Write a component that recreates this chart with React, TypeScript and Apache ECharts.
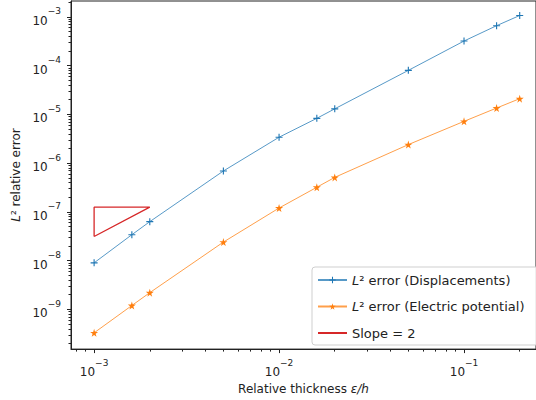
import React, { useEffect, useRef } from "react";
import * as echarts from "echarts";

const thickness = [1e-3, 1.6e-3, 2e-3, 5e-3, 1e-2, 1.6e-2, 2e-2, 5e-2, 1e-1, 1.5e-1, 2e-1];
const dispError = [9e-9, 3.4e-8, 6.3e-8, 6.9e-7, 3.4e-6, 8.3e-6, 1.3e-5, 8e-5, 3.2e-4, 6.6e-4, 1.07e-3];
const elecError = [3.3e-10, 1.2e-9, 2.2e-9, 2.4e-8, 1.2e-7, 3.2e-7, 5.1e-7, 2.4e-6, 7.2e-6, 1.35e-5, 2.1e-5];
const slopeX = [1e-3, 1e-3, 2e-3, 1e-3];
const slopeY = [3.125e-8, 1.25e-7, 1.25e-7, 3.125e-8];

const xMin = 7.5e-4;
const xMax = 0.245;
const yMin = 1.53e-10;
const yMax = 2.12e-3;
const xMajor = [1e-3, 1e-2, 1e-1];
const yMajor = [1e-9, 1e-8, 1e-7, 1e-6, 1e-5, 1e-4, 1e-3];

function minorTicks(lo: number, hi: number): number[] {
  const out: number[] = [];
  for (let e = Math.floor(Math.log10(lo)); e <= Math.ceil(Math.log10(hi)); e++) {
    for (let m = 2; m <= 9; m++) {
      const v = m * Math.pow(10, e);
      if (v >= lo && v <= hi) out.push(v);
    }
  }
  return out;
}

function powLabel(v: number): string {
  const e = Math.round(Math.log10(v));
  return "{b|10}{s|" + String(e).replace("-", "\u2212") + "}";
}

const FONT = "DejaVu Sans";
const TXT = "#222";
const AX = "#222";
const tickRich = {
  b: { fontSize: 12, lineHeight: 20, verticalAlign: "bottom", color: TXT, fontFamily: FONT },
  s: { fontSize: 9, lineHeight: 10, verticalAlign: "top", color: TXT, fontFamily: FONT },
};

export default function App() {
  const ref = useRef<HTMLDivElement>(null);
  useEffect(() => {
    if (!ref.current) return;
    const chart = echarts.init(ref.current, undefined, { renderer: "svg" });
    const plus = "path://M4.2,0H5.8V4.2H10V5.8H5.8V10H4.2V5.8H0V4.2H4.2Z";
    const star = "path://M50,0L61,35L98,35L68,57L79,91L50,70L21,91L32,57L2,35L39,35Z";
    const baseX = { type: "log", min: xMin, max: xMax, logBase: 10, splitLine: { show: false } };
    const baseY = { type: "log", min: yMin, max: yMax, logBase: 10, splitLine: { show: false } };
    chart.setOption({
      animation: false,
      textStyle: { fontFamily: FONT },
      grid: { left: 71, right: 0, top: 1, bottom: 50, show: true, borderColor: AX, borderWidth: 1, containLabel: false },
      xAxis: [
        {
          ...baseX,
          position: "bottom",
          name: "Relative thickness {i|ε/h}",
          nameLocation: "middle",
          nameGap: 30,
          nameTextStyle: { fontSize: 12, color: TXT, fontFamily: FONT, rich: { i: { fontStyle: "italic", fontSize: 12, color: TXT, fontFamily: FONT } } },
          axisLine: { show: true, onZero: false, lineStyle: { color: AX, width: 1 } },
          axisTick: { show: true, inside: false, length: 4, customValues: xMajor, lineStyle: { color: AX } },
          axisLabel: { show: true, customValues: xMajor, formatter: (v: number) => powLabel(v), color: TXT, margin: 9, fontFamily: FONT, rich: tickRich },
        },
        {
          ...baseX,
          position: "bottom",
          axisLine: { show: false, onZero: false },
          axisTick: { show: true, inside: false, length: 2.5, customValues: minorTicks(xMin, xMax), lineStyle: { color: AX } },
          axisLabel: { show: false },
        },
      ],
      yAxis: [
        {
          ...baseY,
          position: "left",
          name: "{i|L}² relative error",
          nameLocation: "middle",
          nameGap: 48,
          nameRotate: 90,
          nameTextStyle: { fontSize: 12, color: TXT, fontFamily: FONT, rich: { i: { fontStyle: "italic", fontSize: 12, color: TXT, fontFamily: FONT } } },
          axisLine: { show: true, onZero: false, lineStyle: { color: AX, width: 1 } },
          axisTick: { show: true, inside: false, length: 4, customValues: yMajor, lineStyle: { color: AX } },
          axisLabel: { show: true, customValues: yMajor, formatter: (v: number) => powLabel(v), color: TXT, margin: 10, fontFamily: FONT, rich: tickRich },
        },
        {
          ...baseY,
          position: "left",
          axisLine: { show: false, onZero: false },
          axisTick: { show: true, inside: false, length: 2.5, customValues: minorTicks(yMin, yMax), lineStyle: { color: AX } },
          axisLabel: { show: false },
        },
      ],
      legend: {
        orient: "vertical",
        left: 312,
        top: 267,
        padding: [5, 30, 4, 5],
        itemGap: 10.5,
        itemWidth: 29,
        itemHeight: 8,
        backgroundColor: "rgba(255,255,255,0.85)",
        borderColor: "#cfcfcf",
        borderWidth: 1,
        borderRadius: 3,
        textStyle: { fontSize: 13, lineHeight: 16, color: TXT, fontFamily: FONT, rich: { i: { fontStyle: "italic", fontSize: 13, lineHeight: 16, color: TXT, fontFamily: FONT } } },
        formatter: (name: string) => name.replace("L", "{i|L}"),
        data: ["L² error (Displacements)", "L² error (Electric potential)", "Slope = 2"],
      },
      series: [
        {
          name: "L² error (Displacements)",
          type: "line",
          xAxisIndex: 0,
          yAxisIndex: 0,
          data: thickness.map((x, i) => [x, dispError[i]]),
          symbol: plus,
          symbolSize: 7,
          showAllSymbol: true,
          lineStyle: { color: "#1f77b4", width: 1, opacity: 0.75 },
          itemStyle: { color: "#1f77b4" },
        },
        {
          name: "L² error (Electric potential)",
          type: "line",
          xAxisIndex: 0,
          yAxisIndex: 0,
          data: thickness.map((x, i) => [x, elecError[i]]),
          symbol: star,
          symbolSize: 8,
          showAllSymbol: true,
          lineStyle: { color: "#ff7f0e", width: 1, opacity: 0.75 },
          itemStyle: { color: "#ff7f0e" },
        },
        {
          name: "Slope = 2",
          type: "line",
          xAxisIndex: 0,
          yAxisIndex: 0,
          data: slopeX.map((x, i) => [x, slopeY[i]]),
          symbol: "none",
          lineStyle: { color: "#d62728", width: 1.3 },
          itemStyle: { color: "rgba(0,0,0,0)", borderWidth: 0 },
        },
      ],
    });
    return () => chart.dispose();
  }, []);
  return <div ref={ref} style={{ width: 536, height: 400, position: "absolute", left: 0, top: 0 }} />;
}
